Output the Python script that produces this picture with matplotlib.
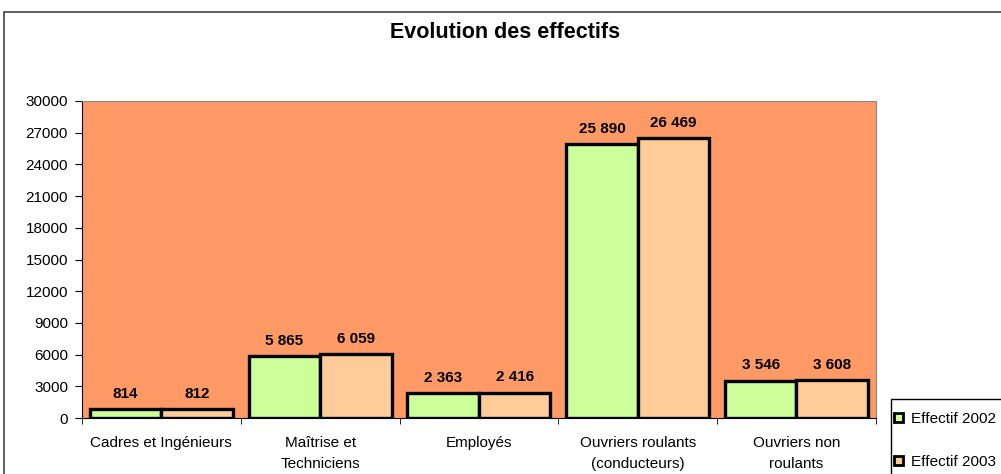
import matplotlib
matplotlib.use("Agg")
import matplotlib.pyplot as plt
import numpy as np
from matplotlib.patches import Rectangle, Patch

plt.rcParams['font.family'] = ['Liberation Sans', 'DejaVu Sans']

categories = ["Cadres et Ingénieurs", "Maîtrise et\nTechniciens", "Employés",
              "Ouvriers roulants\n(conducteurs)", "Ouvriers non\nroulants"]
effectif_2002 = [814, 5865, 2363, 25890, 3546]
effectif_2003 = [812, 6059, 2416, 26469, 3608]
series_names = ["Effectif 2002", "Effectif 2003"]
yticks = list(range(0, 30001, 3000))

def fmt(v):
    return f"{v:,}".replace(",", " ")

fig = plt.figure(figsize=(10.01, 4.74), dpi=100)
ax = fig.add_axes([0.0819, 0.118, 0.7931, 0.669])

# outer chart border
fig.patches.append(Rectangle((4 / 1001, -0.1), 1.2, 1 - 12 / 474 + 0.1,
                             transform=fig.transFigure, fill=False,
                             edgecolor='#444444', linewidth=1.2))

x = np.arange(len(categories))
w = 0.45
colors = ['#CCFF99', '#FFCC99']
for i, vals in enumerate([effectif_2002, effectif_2003]):
    pos = x + (i - 0.5) * w
    ax.bar(pos, vals, w, color=colors[i], edgecolor='black', linewidth=2.4)
    for p, v in zip(pos, vals):
        ax.annotate(fmt(v), (p, v), xytext=(0, 6), textcoords='offset points',
                    ha='center', va='bottom', fontsize=11, fontweight='bold')

ax.set_facecolor('#FF9966')
ax.set_xlim(-0.5, len(categories) - 0.5)
ax.set_ylim(0, 30000)
ax.set_yticks(yticks)
ax.set_yticklabels([str(t) for t in yticks], fontsize=11)
ax.set_xticks(x)
ax.set_xticklabels(categories, fontsize=11, linespacing=1.6)
ax.tick_params(axis='x', length=0, pad=13)
ax.set_xticks(np.arange(-0.5, len(categories)), minor=True)
ax.tick_params(axis='x', which='minor', length=4, direction='out')
ax.tick_params(axis='y', length=5, direction='out', pad=5)
for s in ['top', 'right']:
    ax.spines[s].set_color('#888888')
ax.spines['left'].set_color('black')
ax.spines['bottom'].set_color('black')

fig.text(0.505, 1 - 33 / 474, "Evolution des effectifs", ha='center', va='center',
         fontsize=15.5, fontweight='bold')

# legend box, running off the figure edge
fig.patches.append(Rectangle((891 / 1001, -0.1), 0.2, 0.1 + 1 - 399 / 474,
                             transform=fig.transFigure, fill=True,
                             facecolor='white', edgecolor='black', linewidth=1))
handles = [Patch(facecolor=c, edgecolor='black', linewidth=2) for c in colors]
leg = fig.legend(handles, series_names, loc='upper left',
                 bbox_to_anchor=(894 / 1001, 1 - 412 / 474), fontsize=11,
                 handlelength=0.6, handleheight=0.6, handletextpad=0.5,
                 labelspacing=1.9, borderpad=0, borderaxespad=0,
                 frameon=False)

plt.savefig("out.png", dpi=100)
plt.close()
